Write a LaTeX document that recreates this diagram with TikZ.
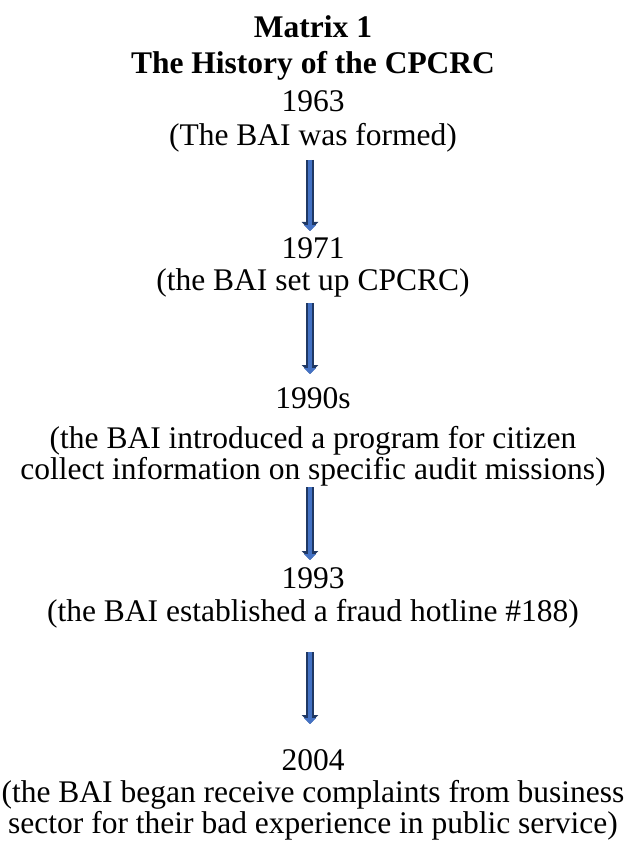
\documentclass[tikz,border=0pt]{standalone}
\usepackage{fontspec}
\setmainfont{Liberation Serif}
\usepackage{tikz}
\usetikzlibrary{arrows.meta,positioning}
\definecolor{arrowfill}{RGB}{68,114,196}
\definecolor{arrowline}{RGB}{31,56,100}
\tikzset{
  txt/.style={inner sep=0pt,align=center,font=\fontsize{31.5}{31}\selectfont},
  head/.style={txt,font=\fontsize{31.5}{36}\selectfont\bfseries},
  flowarrow/.style={line width=4pt,draw=arrowfill,
    -{Triangle[width=12pt,length=6pt]},
    preaction={draw=arrowline,line width=8pt,-{Triangle[width=16pt,length=9pt]}}}
}
\begin{document}
\begin{tikzpicture}[x=1pt,y=1pt]
\useasboundingbox (0,0) rectangle (626,-850);
\node[head] (title) at (313,-48) {Matrix 1\\The History of the CPCRC};
\node[txt] (y1963) at (313,-101) {1963};
\node[txt] (e1963) at (313,-138) {(The BAI was formed)};
\node[txt] (y1971) at (313,-248) {1971};
\node[txt] (e1971) at (313,-283) {(the BAI set up CPCRC)};
\node[txt] (y1990) at (313,-398) {1990s};
\node[txt] (e1990) at (313,-456) {(the BAI introduced a program for citizen\\collect information on specific audit missions)};
\node[txt] (y1993) at (313,-578) {1993};
\node[txt] (e1993) at (313,-614) {(the BAI established a fraud hotline \#188)};
\node[txt] (y2004) at (313,-760) {2004};
\node[txt] (e2004) at (313,-810) {(the BAI began receive complaints from business\\sector for their bad experience in public service)};
% arrow ends
\coordinate (a1s) at (310,-160);
\coordinate (a1e) at (310,-231);
\coordinate (a2s) at (310,-303);
\coordinate (a2e) at (310,-374);
\coordinate (a3s) at (310,-487);
\coordinate (a3e) at (310,-560);
\coordinate (a4s) at (310,-652);
\coordinate (a4e) at (310,-724);
\draw[flowarrow] (a1s) -- (a1e);
\draw[flowarrow] (a2s) -- (a2e);
\draw[flowarrow] (a3s) -- (a3e);
\draw[flowarrow] (a4s) -- (a4e);
\end{tikzpicture}
\end{document}
